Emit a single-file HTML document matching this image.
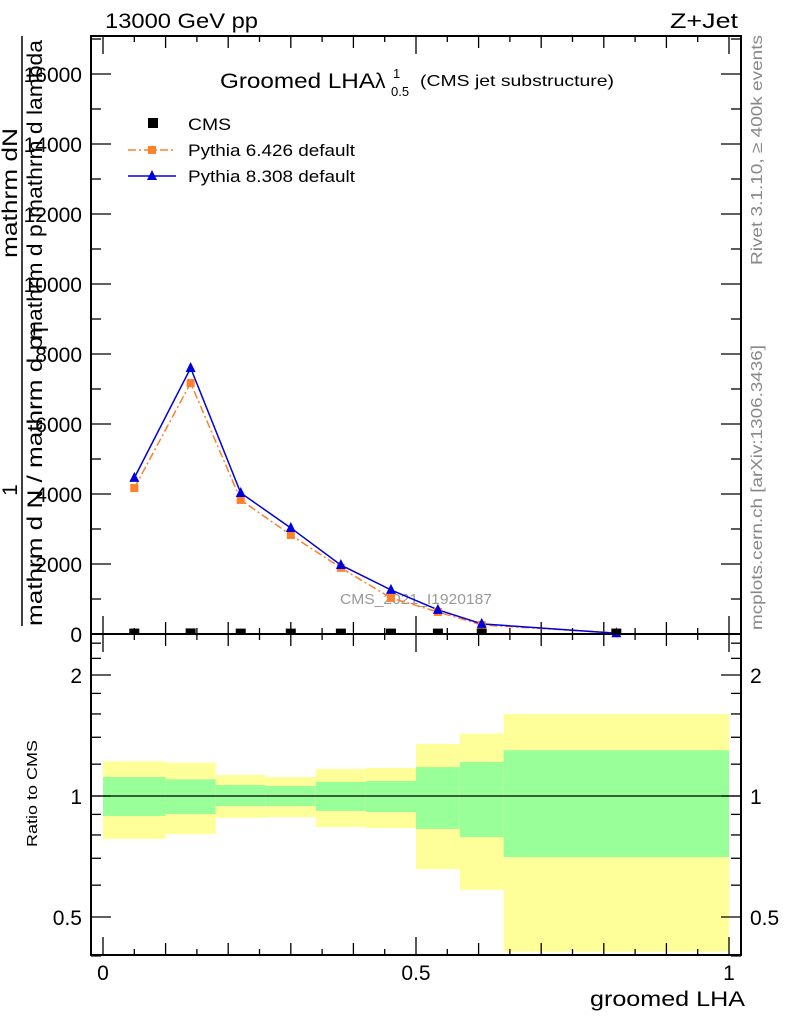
<!DOCTYPE html>
<html><head><meta charset="utf-8"><style>body{margin:0;background:#fff}svg{display:block;font-family:"Liberation Sans",sans-serif}</style></head>
<body>
<svg id="c" width="786" height="1024"></svg>
<script>
const edges=[0,0.1,0.18,0.26,0.34,0.42,0.5,0.57,0.64,1.0];
const xmid=[0.05,0.14,0.22,0.30,0.38,0.46,0.535,0.605,0.82];
const cmsVals=[40,45,40,40,40,40,40,40,40];
const py6=[4170,7170,3830,2830,1890,1030,630,260,30];
const py8=[4460,7600,4030,3030,1970,1260,690,290,20];
const yelHi=[1.22,1.21,1.128,1.115,1.167,1.174,1.347,1.43,1.6];
const grnHi=[1.115,1.10,1.065,1.059,1.084,1.09,1.18,1.215,1.30];
const grnLo=[0.892,0.902,0.944,0.944,0.918,0.912,0.828,0.79,0.705];
const yelLo=[0.782,0.804,0.882,0.886,0.837,0.832,0.658,0.584,0.41];
const mainTicks=[0,2000,4000,6000,8000,10000,12000,14000,16000];
const xTicks=[0,0.5,1];
const ratioTicks=[0.5,1,2];

const NS="http://www.w3.org/2000/svg",svg=document.getElementById('c');
function el(t,a,p){const e=document.createElementNS(NS,t);for(const k in a)e.setAttribute(k,a[k]);(p||svg).appendChild(e);return e;}
const L=91,R=741,T=36,MB=634,RB=955;
const X=v=>103+v*626;
const Y=v=>634-v*0.035;
const RY=v=>796-Math.log2(v)*121;
let e;
for(let i=0;i<9;i++){
 e=el('rect',{x:X(edges[i]),y:RY(yelHi[i]),width:X(edges[i+1])-X(edges[i]),height:RY(yelLo[i])-RY(yelHi[i]),fill:'#ffff99'});
 
 e=el('rect',{x:X(edges[i]),y:RY(grnHi[i]),width:X(edges[i+1])-X(edges[i]),height:RY(grnLo[i])-RY(grnHi[i]),fill:'#99ff99'});
 
}
el('rect',{x:L,y:634,width:R-L,height:RB-634,fill:'none',stroke:'#000','stroke-width':2});
el('line',{x1:L,x2:R,y1:RY(1),y2:RY(1),stroke:'#000','stroke-width':1.2});
el('rect',{x:L,y:T,width:R-L,height:MB-T,fill:'none',stroke:'#000','stroke-width':2});
for(let v=0;v<=1.0001;v+=0.05){const big=Math.abs(v*2-Math.round(v*2))<1e-6,s=Math.abs(v*10-Math.round(v*10))<1e-6;const h=big?18:(s?12:6);
 for(const [yb,d] of [[MB,-1],[RB,-1],[T,1],[634,1]]) el('line',{x1:X(v),x2:X(v),y1:yb,y2:yb+d*h,stroke:'#000','stroke-width':1.3});}
for(let v=0;v<=17000;v+=1000){const big=v%2000==0,h=big?20:10;
 el('line',{x1:L,x2:L+h,y1:Y(v),y2:Y(v),stroke:'#000','stroke-width':1.3});el('line',{x1:R,x2:R-h,y1:Y(v),y2:Y(v),stroke:'#000','stroke-width':1.3});}
mainTicks.forEach(v=>{e=el('text',{x:82,y:Y(v)+8,'text-anchor':'end','font-size':21});e.textContent=v;});
[0.4,0.5,0.6,0.7,0.8,0.9,1,1.2,1.4,1.6,1.8,2,2.2,2.4].forEach(v=>{const big=[0.5,1,2].includes(v),h=big?20:10;
 el('line',{x1:L,x2:L+h,y1:RY(v),y2:RY(v),stroke:'#000','stroke-width':1.3});el('line',{x1:R,x2:R-h,y1:RY(v),y2:RY(v),stroke:'#000','stroke-width':1.3});});
ratioTicks.forEach(v=>{for(const [x,a] of [[82,'end'],[750,'start']]){e=el('text',{x:x,y:RY(v)+8,'text-anchor':a,'font-size':21});e.textContent=v;}});
xTicks.forEach(v=>{e=el('text',{x:X(v),y:980,'text-anchor':'middle','font-size':21});e.textContent=v;});
e=el('text',{x:340,y:604,'font-size':15,fill:'#999',textLength:152,lengthAdjust:'spacingAndGlyphs'});e.textContent='CMS_2021_I1920187';
function line(vals,col,dash,name){e=el('polyline',{points:vals.map((v,i)=>X(xmid[i])+','+Y(v)).join(' '),fill:'none',stroke:col,'stroke-width':1.5,'stroke-dasharray':dash});}
line(py6,'#ff7f2a','8,3,2,3','pythia6-line');
line(py8,'#0000dd','none','pythia8-line');
py6.forEach((v,i)=>{e=el('rect',{x:X(xmid[i])-4,y:Y(v)-4,width:8,height:8,fill:'#ff7f2a'});});
py8.forEach((v,i)=>{const x=X(xmid[i]),y=Y(v);e=el('polygon',{points:`${x-5},${y+4} ${x+5},${y+4} ${x},${y-6}`,fill:'#0000dd'});});
cmsVals.forEach((v,i)=>{e=el('rect',{x:X(xmid[i])-5,y:Y(v)-4,width:10,height:6,fill:'#000'});});
function txt(a,s,name){e=el('text',a);e.innerHTML=s;return e;}
const LA='spacingAndGlyphs';
txt({x:105,y:28,'font-size':21,textLength:153,lengthAdjust:LA},'13000 GeV pp','beam-label');
txt({x:670,y:28,'font-size':21,textLength:68,lengthAdjust:LA},'Z+Jet','process-label');
txt({x:220,y:88,'font-size':21,textLength:155,lengthAdjust:LA},'Groomed LHA','plot-title');
txt({x:375,y:88,'font-size':21},'&#955;','plot-title-lambda');
txt({x:393,y:78,'font-size':13},'1','plot-title-sup');
txt({x:391,y:96,'font-size':13},'0.5','plot-title-sub');
txt({x:420,y:86,'font-size':16,textLength:194,lengthAdjust:LA},'(CMS jet substructure)','plot-title-sub-text');
el('rect',{x:148,y:118,width:10,height:10,fill:'#000'});
txt({x:188,y:130,'font-size':17,textLength:43,lengthAdjust:LA},'CMS','legend-cms');
el('line',{x1:128,x2:176,y1:150,y2:150,stroke:'#ff7f2a','stroke-width':1.5,'stroke-dasharray':'8,3,2,3'});
el('rect',{x:148,y:146,width:8,height:8,fill:'#ff7f2a'});
txt({x:188,y:156,'font-size':17,textLength:167,lengthAdjust:LA},'Pythia 6.426 default','legend-pythia6');
el('line',{x1:128,x2:176,y1:176,y2:176,stroke:'#0000dd','stroke-width':1.5});
el('polygon',{points:'147,180 157,180 152,170',fill:'#0000dd'});
txt({x:188,y:182,'font-size':17,textLength:167,lengthAdjust:LA},'Pythia 8.308 default','legend-pythia8');
txt({x:590,y:1006,'font-size':21,textLength:155,lengthAdjust:LA},'groomed LHA','x-axis-title');
txt({x:0,y:0,'font-size':15,textLength:107,lengthAdjust:LA,transform:'translate(37,847) rotate(-90)'},'Ratio to CMS','ratio-y-title');
txt({x:0,y:0,'font-size':16,fill:'#888',textLength:230,lengthAdjust:LA,transform:'translate(762,265) rotate(-90)'},'Rivet 3.1.10, &#8805; 400k events','rivet-label');
txt({x:0,y:0,'font-size':16,fill:'#888',textLength:285,lengthAdjust:LA,transform:'translate(762,630) rotate(-90)'},'mcplots.cern.ch [arXiv:1306.3436]','mcplots-label');
el('line',{x1:22,x2:22,y1:36,y2:626,stroke:'#000','stroke-width':1.5});
txt({x:0,y:0,'font-size':21,'text-anchor':'middle',transform:'translate(17,490) rotate(-90)'},'1','y-title-one');
txt({x:0,y:0,'font-size':21,textLength:130,lengthAdjust:LA,transform:'translate(17,258) rotate(-90)'},'mathrm dN','y-title-numerator');
txt({x:0,y:0,'font-size':21,textLength:290,lengthAdjust:LA,transform:'translate(42,626) rotate(-90)'},'mathrm d N / mathrm d p','y-title-denominator');
txt({x:0,y:0,'font-size':21,transform:'translate(48,336) rotate(-90)'},'T','y-title-T');
txt({x:0,y:0,'font-size':21,textLength:300,lengthAdjust:LA,transform:'translate(42,340) rotate(-90)'},'mathrm d p mathrm d lambda','y-title-denominator-2');
</script>
</body></html>
